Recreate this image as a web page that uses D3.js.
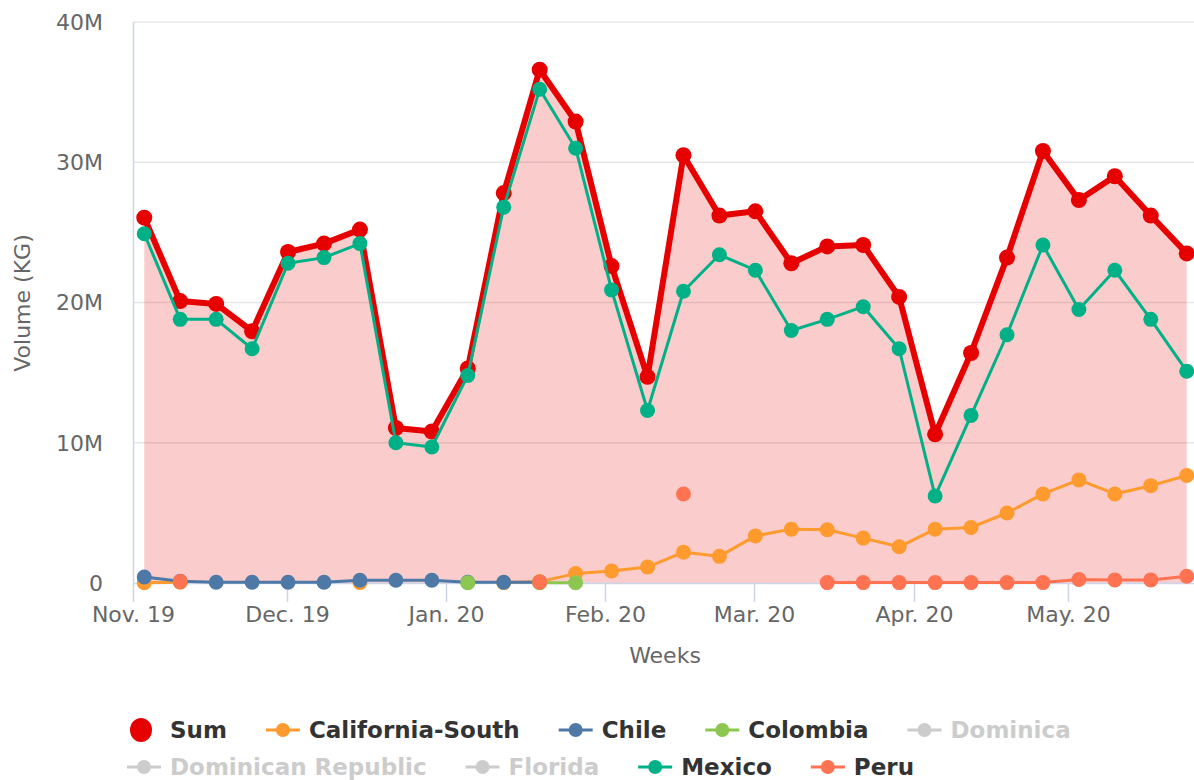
<!DOCTYPE html>
<html>
<head>
<meta charset="utf-8">
<script src="https://cdnjs.cloudflare.com/ajax/libs/d3/7.8.5/d3.min.js"></script>
<style>
  body { margin: 0; background: #fff; }
  svg { display: block; font-family: "DejaVu Sans", sans-serif; }
</style>
</head>
<body>
<div id="chart"></div>
<script>
// week starting dates (x values)
var weeks = ["2019-11-03","2019-11-10","2019-11-17","2019-11-24","2019-12-01","2019-12-08","2019-12-15",
  "2019-12-22","2019-12-29","2020-01-05","2020-01-12","2020-01-19","2020-01-26","2020-02-02","2020-02-09",
  "2020-02-16","2020-02-23","2020-03-01","2020-03-08","2020-03-15","2020-03-22","2020-03-29","2020-04-05",
  "2020-04-12","2020-04-19","2020-04-26","2020-05-03","2020-05-10","2020-05-17","2020-05-24"];

// volumes in millions of KG, null = no data that week
var sumVals = [26.05, 20.1, 19.9, 17.95, 23.6, 24.2, 25.2, 11.05, 10.8, 15.3, 27.8, 36.6, 32.9, 22.6, 14.7,
  30.5, 26.2, 26.5, 22.8, 24.0, 24.1, 20.4, 10.6, 16.4, 23.2, 30.8, 27.3, 29.0, 26.2, 23.5];
var mexicoVals = [24.9, 18.8, 18.8, 16.7, 22.8, 23.2, 24.2, 10.0, 9.7, 14.8, 26.8, 35.2, 31.0, 20.9, 12.3,
  20.8, 23.4, 22.3, 18.0, 18.8, 19.7, 16.7, 6.2, 11.95, 17.7, 24.1, 19.5, 22.3, 18.8, 15.1];
var calSouthVals = [0.02, 0.05, null, null, null, null, 0.03, null, null, null, 0.03, 0.1, 0.67, 0.86, 1.14,
  2.2, 1.9, 3.36, 3.84, 3.8, 3.2, 2.58, 3.84, 3.96, 4.99, 6.35, 7.35, 6.35, 6.94, 7.66];
var chileVals = [0.43, 0.12, 0.05, 0.05, 0.05, 0.05, 0.2, 0.2, 0.2, 0.05, 0.05, 0.05, null, null, null,
  null, null, null, null, null, null, null, null, null, null, null, null, null, null, null];
var colombiaVals = [null, null, null, null, null, null, null, null, null, 0.02, null, 0.02, 0.02, null, null,
  null, null, null, null, null, null, null, null, null, null, null, null, null, null, null];
var peruVals = [null, 0.1, null, null, null, null, null, null, null, null, null, 0.05, null, null, null,
  6.35, null, null, null, 0.03, 0.03, 0.03, 0.03, 0.03, 0.03, 0.03, 0.25, 0.22, 0.22, 0.48];

var yTicks = [0, 10, 20, 30, 40];
var yTickLabels = ["0", "10M", "20M", "30M", "40M"];
var monthTicks = ["2019-11-01","2019-12-01","2020-01-01","2020-02-01","2020-03-01","2020-04-01","2020-05-01"];
var monthLabels = ["Nov. 19","Dec. 19","Jan. 20","Feb. 20","Mar. 20","Apr. 20","May. 20"];

// legend order and which series are shown
var legendRows = [
  ["Sum", "California-South", "Chile", "Colombia", "Dominica"],
  ["Dominican Republic", "Florida", "Mexico", "Peru"]
];

var colors = {
  "Sum": "#e60000",
  "California-South": "#ff9a2e",
  "Chile": "#4e79a7",
  "Colombia": "#8cc751",
  "Dominica": "#cccccc",
  "Dominican Republic": "#cccccc",
  "Florida": "#cccccc",
  "Mexico": "#00b187",
  "Peru": "#ff7352"
};
var hidden = ["Dominica", "Dominican Republic", "Florida"];

window.onload = function() {
  var W = 1194, H = 780;
  var parse = d3.timeParse("%Y-%m-%d");

  var svg = d3.select("#chart").append("svg")
    .attr("width", W)
    .attr("height", H);

  var x = d3.scaleTime()
    .domain([parse("2019-11-01"), parse("2020-05-26")])
    .range([134, 1197]);
  var y = d3.scaleLinear().domain([0, 40]).range([583, 22]);

  // grid lines
  svg.append("g").selectAll("line")
    .data(yTicks.slice(1))
    .enter().append("line")
    .attr("x1", 133).attr("x2", W)
    .attr("y1", function(d) { return y(d); })
    .attr("y2", function(d) { return y(d); })
    .attr("stroke", "#e6e6e6")
    .attr("stroke-width", 1.5);

  // y labels
  svg.append("g").selectAll("text")
    .data(yTicks)
    .enter().append("text")
    .attr("x", 103)
    .attr("y", function(d) { return y(d); })
    .attr("dy", "0.36em")
    .attr("text-anchor", "end")
    .attr("fill", "#666")
    .style("font-size", "22px")
    .text(function(d, i) { return yTickLabels[i]; });

  // month ticks + labels
  var mt = svg.append("g");
  monthTicks.forEach(function(m, i) {
    var mx = Math.round(x(parse(m))) - 0.5;
    mt.append("line")
      .attr("x1", mx).attr("x2", mx)
      .attr("y1", 583).attr("y2", 602)
      .attr("stroke", "#ccd6eb").attr("stroke-width", 1.5);
    mt.append("text")
      .attr("x", mx)
      .attr("y", 622)
      .attr("text-anchor", "middle")
      .attr("fill", "#666")
      .style("font-size", "22px")
      .text(monthLabels[i]);
  });

  // axis titles
  svg.append("text")
    .attr("x", 665).attr("y", 663)
    .attr("text-anchor", "middle")
    .attr("fill", "#666")
    .style("font-size", "22px")
    .text("Weeks");
  svg.append("text")
    .attr("transform", "translate(30,303) rotate(-90)")
    .attr("text-anchor", "middle")
    .attr("fill", "#666")
    .style("font-size", "22px")
    .text("Volume (KG)");

  function toPoints(vals) {
    return vals.map(function(v, i) { return { d: parse(weeks[i]), v: v }; });
  }

  // Sum area
  var sumPts = toPoints(sumVals);
  var area = d3.area()
    .x(function(p) { return x(p.d); })
    .y0(y(0))
    .y1(function(p) { return y(p.v); });
  svg.append("path")
    .attr("d", area(sumPts))
    .attr("fill", "rgba(230,0,0,0.2)");

  // axis lines
  svg.append("line")
    .attr("x1", 133.5).attr("x2", 133.5).attr("y1", 22).attr("y2", 583)
    .attr("stroke", "#ccd6eb").attr("stroke-width", 1.5);
  svg.append("line")
    .attr("x1", 133).attr("x2", W).attr("y1", 583.5).attr("y2", 583.5)
    .attr("stroke", "#ccd6eb").attr("stroke-width", 1.5);

  var line = d3.line()
    .defined(function(p) { return p.v != null; })
    .x(function(p) { return x(p.d); })
    .y(function(p) { return y(p.v); });

  function drawSeries(name, vals, lw, r) {
    var pts = toPoints(vals);
    var g = svg.append("g");
    g.append("path")
      .attr("d", line(pts))
      .attr("fill", "none")
      .attr("stroke", colors[name])
      .attr("stroke-width", lw)
      .attr("stroke-linejoin", "round");
    g.selectAll("circle")
      .data(pts.filter(function(p) { return p.v != null; }))
      .enter().append("circle")
      .attr("cx", function(p) { return x(p.d); })
      .attr("cy", function(p) { return y(p.v); })
      .attr("r", r)
      .attr("fill", colors[name]);
  }

  drawSeries("Sum", sumVals, 6, 8);
  drawSeries("California-South", calSouthVals, 3, 7.5);
  drawSeries("Chile", chileVals, 3, 7.5);
  drawSeries("Colombia", colombiaVals, 3, 7.5);
  drawSeries("Mexico", mexicoVals, 3, 7.5);
  drawSeries("Peru", peruVals, 3, 7.5);

  // legend
  var leg = svg.append("g");
  legendRows.forEach(function(row, ri) {
    var cx = 127;
    var by = 738 + ri * 37;
    row.forEach(function(name) {
      var off = hidden.indexOf(name) >= 0;
      var g = leg.append("g");
      if (name === "Sum") {
        g.append("ellipse")
          .attr("cx", cx + 14).attr("cy", by - 8)
          .attr("rx", 11).attr("ry", 12)
          .attr("fill", colors[name]);
      } else {
        g.append("line")
          .attr("x1", cx).attr("x2", cx + 34)
          .attr("y1", by - 8).attr("y2", by - 8)
          .attr("stroke", colors[name]).attr("stroke-width", 3);
        g.append("circle")
          .attr("cx", cx + 17).attr("cy", by - 8).attr("r", 7)
          .attr("fill", colors[name]);
      }
      var t = g.append("text")
        .attr("x", cx + 43)
        .attr("y", by)
        .attr("fill", off ? "#cccccc" : "#333")
        .style("font-size", "23px")
        .style("font-weight", "bold")
        .text(name);
      cx = cx + 43 + t.node().getComputedTextLength() + 39;
    });
  });
};
</script>
</body>
</html>
